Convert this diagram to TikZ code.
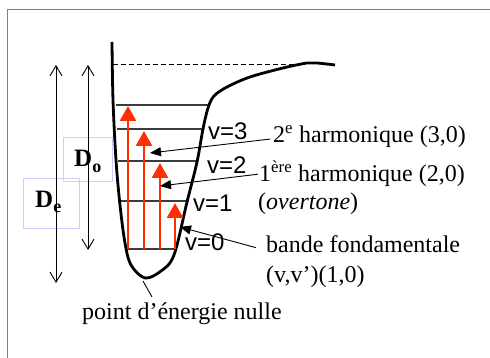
\documentclass[tikz,border=0pt]{standalone}
\usepackage{fontspec}
\setmainfont{Liberation Serif}
\setsansfont{Liberation Sans}
\usetikzlibrary{arrows.meta}
\definecolor{pinkb}{RGB}{230,70,140}
\definecolor{redarr}{RGB}{255,45,0}
\definecolor{boxblue}{RGB}{205,205,255}
\definecolor{levgray}{RGB}{60,60,60}
\begin{document}
\begin{tikzpicture}[x=1pt,y=-1pt,
  lbl/.style={inner sep=0pt,anchor=base west,font=\fontsize{24}{28}\selectfont},
  vlbl/.style={inner sep=0pt,anchor=base west,font=\sffamily\fontsize{24}{28}\selectfont},
  dlbl/.style={inner sep=0pt,anchor=base west,font=\bfseries\fontsize{25}{28}\selectfont},
  level/.style={draw=levgray,line width=1.2pt},
  redup/.style={draw=redarr,line width=2.7pt,-{Triangle[length=15pt,width=16pt]}},
  leader/.style={draw=black,line width=0.9pt,-{Triangle[length=11pt,width=9pt]}},
  dimarrow/.style={draw=black,line width=0.9pt,{Straight Barb[length=10pt,width=12pt]}-{Straight Barb[length=10pt,width=12pt]}},
  dbox/.style={draw=boxblue,line width=0.9pt}]
\useasboundingbox (0,0) rectangle (490,358);
% pink frame
\draw[pinkb,line width=1.4pt] (7.5,9.5) rectangle (500,370);
% dashed dissociation line
\coordinate (dl) at (113,64.5);
\coordinate (dr) at (305,64.5);
\draw[line width=0.9pt,dash pattern=on 5pt off 3pt] (dl) -- (dr);
% boxes
\draw[dbox] (23,178) rectangle (79,228);
\draw[dbox] (63,137) rectangle (112,181);
% dimension arrows
\coordinate (det) at (56,65);
\coordinate (deb) at (56,283);
\coordinate (dot) at (88,65);
\coordinate (dob) at (88,250);
\draw[dimarrow] (det) -- (deb);
\draw[dimarrow] (dot) -- (dob);
% D labels
\node[dlbl] (De) at (35,208) {D\raisebox{-5pt}{\bfseries\fontsize{18}{18}\selectfont e}};
\node[dlbl] (Do) at (74,167) {D\raisebox{-6pt}{\bfseries\fontsize{18}{18}\selectfont o}};
% levels
\coordinate (l4a) at (116,105); \coordinate (l4b) at (209,105);
\coordinate (l3a) at (117,129); \coordinate (l3b) at (203,129);
\coordinate (l2a) at (118,161); \coordinate (l2b) at (196,161);
\coordinate (l1a) at (120,201); \coordinate (l1b) at (187,201);
\coordinate (l0a) at (126,249); \coordinate (l0b) at (177,249);
\draw[level] (l4a) -- (l4b);
\draw[level] (l3a) -- (l3b);
\draw[level] (l2a) -- (l2b);
\draw[level] (l1a) -- (l1b);
\draw[level] (l0a) -- (l0b);
% potential curve
\draw[line width=2.8pt,line join=round] plot[smooth,tension=0.55] coordinates {(112,42) (113,100) (116,160) (120,205) (125,243) (131,265) (145,278) (161,271) (174,255) (187,202) (197,162) (203,129) (208,108) (214,96) (227,87) (250,77) (283,68) (307,63) (317,63) (335,65)};
% red arrows
\coordinate (r1s) at (128,249); \coordinate (r1e) at (128,106);
\coordinate (r2s) at (144,249); \coordinate (r2e) at (144,131);
\coordinate (r3s) at (160,249); \coordinate (r3e) at (160,163);
\coordinate (r4s) at (175,249); \coordinate (r4e) at (175,203);
\draw[redup] (r1s) -- (r1e);
\draw[redup] (r2s) -- (r2e);
\draw[redup] (r3s) -- (r3e);
\draw[redup] (r4s) -- (r4e);
% v labels
\node[vlbl] (v3) at (208,140) {v=3};
\node[vlbl] (v2) at (207,174) {v=2};
\node[vlbl] (v1) at (193,212) {v=1};
\node[vlbl] (v0) at (185,251) {v=0};
% text labels
\node[lbl] (h2) at (273,143) {2\textsuperscript{e} harmonique (3,0)};
\node[lbl] (h1) at (259,182) {1\textsuperscript{ère} harmonique (2,0)};
\node[lbl] (ov) at (258,210) {(\textit{overtone})};
\node[lbl] (bf) at (266,252) {bande fondamentale};
\node[lbl] (vv) at (266,283) {(v,v’)(1,0)};
\node[lbl] (pt) at (82,319) {point d’énergie nulle};
% leaders
\coordinate (t2) at (150,153);
\coordinate (t1) at (160,186);
\coordinate (t0) at (180,227);
\coordinate (pb) at (143,281);
\coordinate (pe) at (152,297);
\draw[leader] ([xshift=-3pt,yshift=-2pt]h2.west) -- (t2);
\draw[leader] ([xshift=-1pt,yshift=0pt]h1.west) -- (t1);
\draw[leader] ([xshift=-10pt,yshift=-4pt]bf.west) -- (t0);
\draw[line width=0.9pt] (pb) -- (pe);
\end{tikzpicture}
\end{document}
